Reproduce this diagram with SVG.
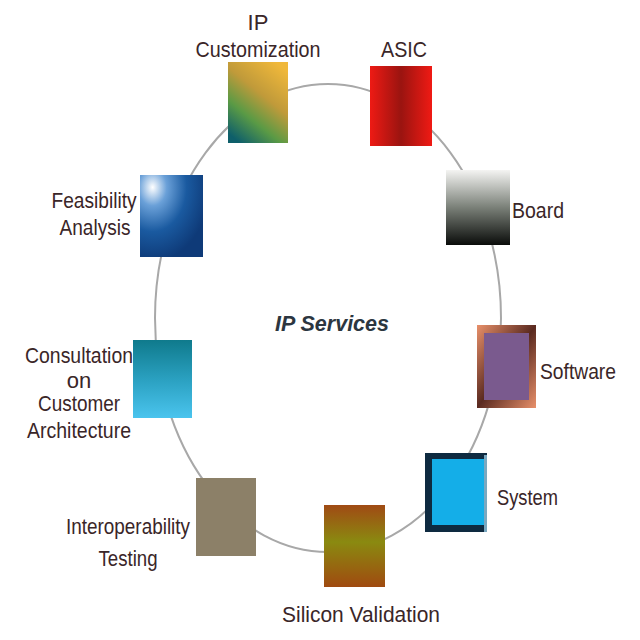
<svg xmlns="http://www.w3.org/2000/svg" width="640" height="640" viewBox="0 0 640 640">
<style>
.lbl{font-family:"Liberation Sans Narrow","Liberation Sans",Arial,sans-serif;font-size:22px;fill:#3a2628;}
.mid{text-anchor:middle;}
.title{font-family:"Liberation Sans",Arial,sans-serif;font-size:22px;font-weight:bold;font-style:italic;fill:#2c3640;}
</style>
<defs>
<linearGradient id="gIP" x1="0.8" y1="0" x2="0.2" y2="1">
<stop offset="0" stop-color="#f0b83a"/><stop offset="0.4" stop-color="#c09a3a"/><stop offset="0.7" stop-color="#5a9a45"/><stop offset="1" stop-color="#0e5f6a"/>
</linearGradient>
<linearGradient id="gASIC" x1="0" y1="0" x2="1" y2="0">
<stop offset="0" stop-color="#ee1a14"/><stop offset="0.5" stop-color="#9a1410"/><stop offset="1" stop-color="#f01a14"/>
</linearGradient>
<linearGradient id="gBoard" x1="0" y1="0" x2="0" y2="1">
<stop offset="0" stop-color="#f4f4f2"/><stop offset="0.5" stop-color="#7a8078"/><stop offset="1" stop-color="#0a0c0a"/>
</linearGradient>
<linearGradient id="gSoftB" x1="0" y1="0" x2="1" y2="1">
<stop offset="0" stop-color="#e8906a"/><stop offset="0.5" stop-color="#5a2a20"/><stop offset="1" stop-color="#e8906a"/>
</linearGradient>
<radialGradient id="gFeas" cx="0.2" cy="0.15" r="0.9">
<stop offset="0" stop-color="#ffffff"/><stop offset="0.25" stop-color="#6aa0d8"/><stop offset="0.6" stop-color="#1a5aa0"/><stop offset="1" stop-color="#0e3a78"/>
</radialGradient>
<linearGradient id="gCons" x1="0" y1="0" x2="0" y2="1">
<stop offset="0" stop-color="#0f7a8c"/><stop offset="0.5" stop-color="#2aa0c0"/><stop offset="1" stop-color="#4ac4ee"/>
</linearGradient>
<linearGradient id="gSil" x1="0" y1="0" x2="0" y2="1">
<stop offset="0" stop-color="#a04a14"/><stop offset="0.45" stop-color="#8a8a10"/><stop offset="1" stop-color="#a04a10"/>
</linearGradient>
</defs>
<rect width="640" height="640" fill="#ffffff"/>
<g id="connectors">
<ellipse cx="328" cy="318" rx="173" ry="234" fill="none" stroke="#a8a8a8" stroke-width="2"/>
</g>
<g id="title"><text class="title" x="332" y="331" text-anchor="middle" textLength="114" lengthAdjust="spacingAndGlyphs">IP Services</text></g>
<g id="ip-customization">
<rect x="228" y="62" width="60" height="81" fill="url(#gIP)"/>
<text class="lbl mid" x="258" y="30">IP</text>
<text class="lbl mid" x="258" y="57" textLength="125" lengthAdjust="spacingAndGlyphs">Customization</text>
</g>
<g id="asic">
<rect x="370" y="66" width="62" height="80" fill="url(#gASIC)"/>
<text class="lbl mid" x="404" y="57" textLength="46" lengthAdjust="spacingAndGlyphs">ASIC</text>
</g>
<g id="board">
<rect x="446" y="170" width="64" height="75" fill="url(#gBoard)"/>
<text class="lbl" x="512" y="218" textLength="52" lengthAdjust="spacingAndGlyphs">Board</text>
</g>
<g id="software">
<rect x="477" y="325" width="59" height="83" fill="url(#gSoftB)"/>
<rect x="484" y="333" width="45" height="67" fill="#7a5a8e"/>
<text class="lbl" x="540" y="379" textLength="76" lengthAdjust="spacingAndGlyphs">Software</text>
</g>
<g id="system">
<rect x="425" y="453" width="62" height="79" fill="#0e2a40"/>
<rect x="432" y="459" width="52" height="66" fill="#14aee8"/>
<rect x="484" y="455" width="3" height="77" fill="#7aa8c0"/>
<text class="lbl" x="497" y="505" textLength="61" lengthAdjust="spacingAndGlyphs">System</text>
</g>
<g id="silicon-validation">
<rect x="324" y="505" width="61" height="82" fill="url(#gSil)"/>
<text class="lbl" x="282" y="622" textLength="158" lengthAdjust="spacingAndGlyphs">Silicon Validation</text>
</g>
<g id="interoperability-testing">
<rect x="196" y="478" width="60" height="78" fill="#8c8068"/>
<text class="lbl mid" x="128" y="534" textLength="124" lengthAdjust="spacingAndGlyphs">Interoperability</text>
<text class="lbl mid" x="128" y="566" textLength="59" lengthAdjust="spacingAndGlyphs">Testing</text>
</g>
<g id="consultation">
<rect x="133" y="340" width="59" height="78" fill="url(#gCons)"/>
<text class="lbl mid" x="79" y="363" textLength="108" lengthAdjust="spacingAndGlyphs">Consultation</text>
<text class="lbl mid" x="79" y="388">on</text>
<text class="lbl mid" x="79" y="411" textLength="82" lengthAdjust="spacingAndGlyphs">Customer</text>
<text class="lbl mid" x="79" y="438" textLength="104" lengthAdjust="spacingAndGlyphs">Architecture</text>
</g>
<g id="feasibility-analysis">
<rect x="140" y="175" width="63" height="82" fill="url(#gFeas)"/>
<text class="lbl mid" x="94" y="208" textLength="85" lengthAdjust="spacingAndGlyphs">Feasibility</text>
<text class="lbl mid" x="95" y="235" textLength="71" lengthAdjust="spacingAndGlyphs">Analysis</text>
</g>
</svg>
